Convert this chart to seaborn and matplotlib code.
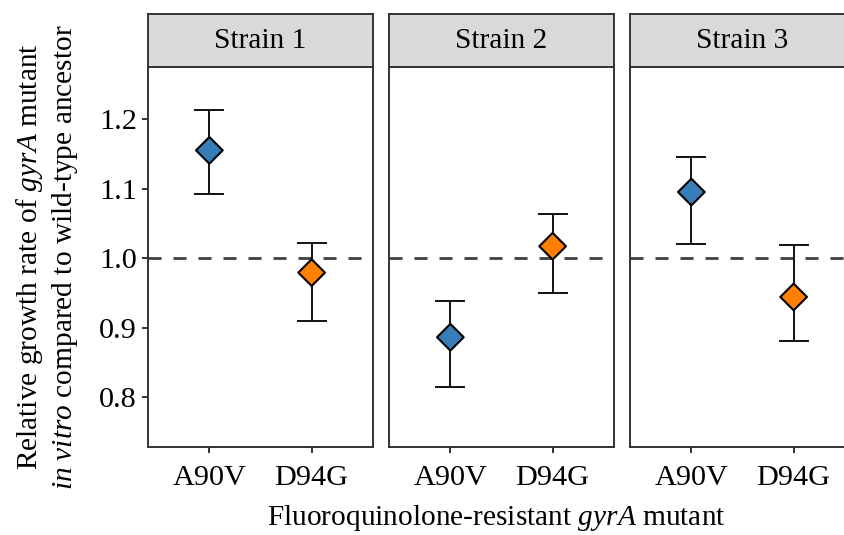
import numpy as np
import pandas as pd
import matplotlib
matplotlib.use("Agg")
import matplotlib.pyplot as plt
import seaborn as sns

# ---- data ----
strains = ["Strain 1", "Strain 2", "Strain 3"]
mutants = ["A90V", "D94G"]
mean_vals = [1.155, 0.979, 0.886, 1.017, 1.095, 0.944]
lower_vals = [1.092, 0.910, 0.814, 0.950, 1.020, 0.880]
upper_vals = [1.213, 1.022, 0.938, 1.063, 1.146, 1.019]
colors = {"A90V": "#377EB8", "D94G": "#FF7F00"}
yticks = [0.8, 0.9, 1.0, 1.1, 1.2]

df = pd.DataFrame({
    "strain": np.repeat(strains, 2),
    "mutant": mutants * 3,
    "mean": mean_vals,
    "lower": lower_vals,
    "upper": upper_vals,
})

sns.set_theme(style="white")
plt.rcParams["font.family"] = ["Liberation Serif", "DejaVu Serif"]
plt.rcParams["mathtext.fontset"] = "custom"
plt.rcParams["mathtext.rm"] = "Liberation Serif"
plt.rcParams["mathtext.it"] = "Liberation Serif:italic"
plt.rcParams["text.color"] = "black"

W, H = 844, 535
fig = plt.figure(figsize=(W / 100, H / 100), dpi=100)
fig.patch.set_facecolor("white")

FS = 21.2
TFS = 21.8
dark = "#333333"
panel_lefts = [148, 389, 630]
panel_w = 225
top, bot = 67, 447
strip_top = 14

def rect(x0, y0, x1, y1):
    return [x0 / W, 1 - y1 / H, (x1 - x0) / W, (y1 - y0) / H]

for i, (s, px) in enumerate(zip(strains, panel_lefts)):
    ax = fig.add_axes(rect(px, top, px + panel_w, bot))
    sub = df[df["strain"] == s]
    ax.axhline(1.0, color="#404040", lw=2.0, dashes=(4.7, 4.3), zorder=1)
    ax.errorbar(sub["mutant"], sub["mean"],
                yerr=[sub["mean"] - sub["lower"], sub["upper"] - sub["mean"]],
                fmt="none", ecolor="black", elinewidth=1.3, capsize=11, capthick=1.3, zorder=2)
    sns.scatterplot(data=sub, x="mutant", y="mean", hue="mutant", palette=colors,
                    marker="D", s=185, edgecolor="black", linewidth=1.5,
                    legend=False, ax=ax, zorder=3)
    ax.set_xlim(-0.6, 1.6)
    ax.set_ylim(0.728, 1.275)
    ax.set_xlabel("")
    ax.set_ylabel("")
    ax.set_yticks(yticks)
    for sp in ax.spines.values():
        sp.set_color(dark)
        sp.set_linewidth(1.4)
        sp.set_visible(True)
    ax.tick_params(axis="x", length=4, width=1.4, color=dark, labelsize=TFS, pad=9,
                   labelcolor="black", bottom=True)
    if i == 0:
        ax.set_yticklabels([f"{v:.1f}" for v in yticks])
        ax.tick_params(axis="y", length=4, width=1.4, color=dark, labelsize=TFS, pad=4,
                       labelcolor="black", left=True)
    else:
        ax.tick_params(axis="y", left=False, labelleft=False)
    ax.grid(False)

    sax = fig.add_axes(rect(px, strip_top, px + panel_w, top))
    sax.set_facecolor("#D9D9D9")
    sax.set_xticks([])
    sax.set_yticks([])
    for sp in sax.spines.values():
        sp.set_color(dark)
        sp.set_linewidth(1.4)
    sax.text(0.5, 0.5, s, ha="center", va="center", fontsize=FS, color="black",
             transform=sax.transAxes)

fig.text(496 / W, 1 - 518 / H, "Fluoroquinolone-resistant $\\mathit{gyrA}$ mutant",
         ha="center", va="center", fontsize=FS, color="black")
fig.text(30 / W, 1 - 257 / H, "Relative growth rate of $\\mathit{gyrA}$ mutant",
         ha="center", va="center", rotation=90, fontsize=FS, color="black")
fig.text(65 / W, 1 - 257 / H, "$\\mathit{in\\ vitro}$ compared to wild-type ancestor",
         ha="center", va="center", rotation=90, fontsize=FS, color="black")

fig.savefig("out.png", dpi=100)
